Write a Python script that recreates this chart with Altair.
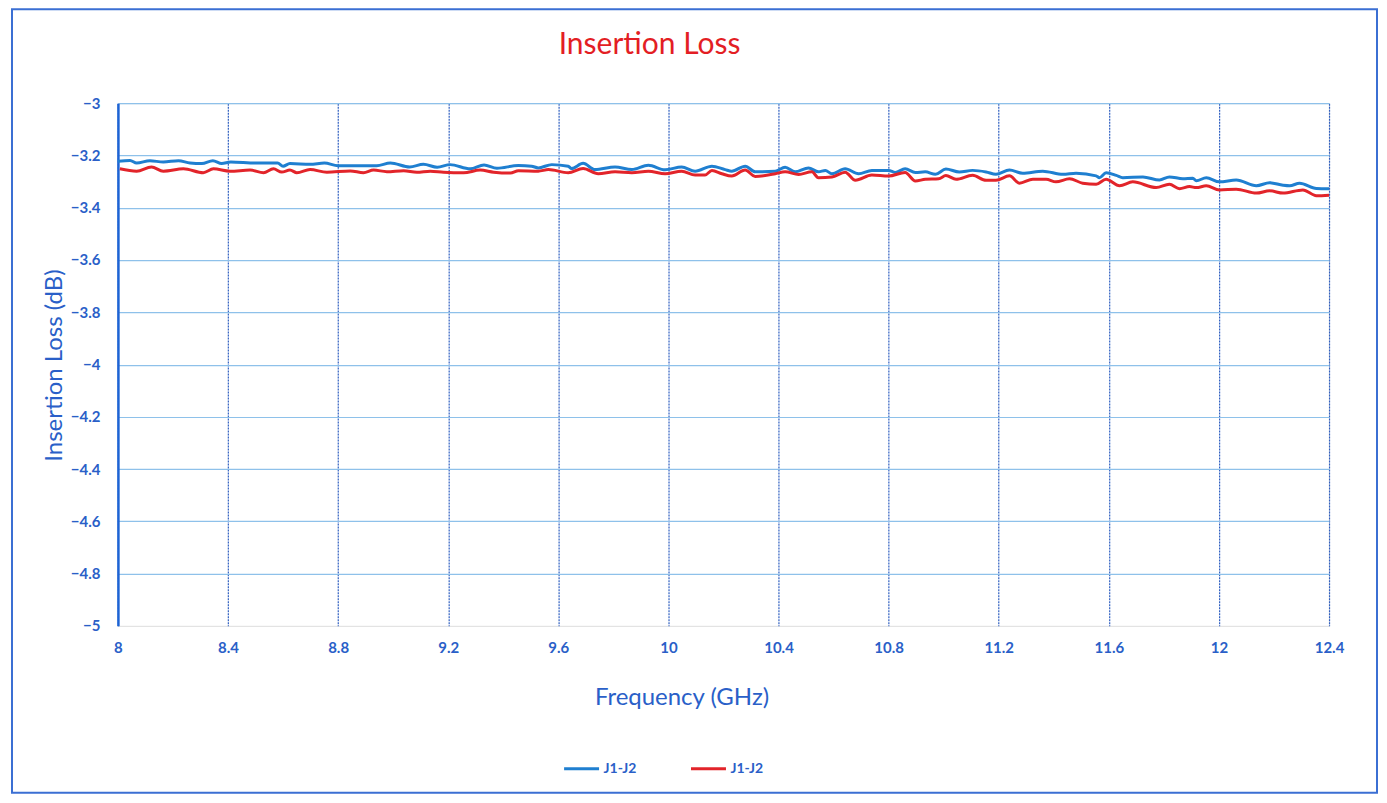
import altair as alt
import pandas as pd

# ---- data ----
freq_blue = [8.0, 8.044, 8.068, 8.116, 8.165, 8.22, 8.262, 8.305, 8.345, 8.377, 8.41, 8.5, 8.58, 8.6,
             8.625, 8.698, 8.75, 8.8, 8.94, 8.99, 9.06, 9.11, 9.16, 9.207, 9.28, 9.33, 9.377, 9.455,
             9.503, 9.527, 9.576, 9.636, 9.648, 9.69, 9.733, 9.806, 9.867, 9.927, 9.988, 10.048,
             10.097, 10.158, 10.206, 10.23, 10.279, 10.315, 10.388, 10.424, 10.46, 10.509, 10.545,
             10.57, 10.594, 10.642, 10.691, 10.739, 10.8, 10.824, 10.86, 10.897, 10.933, 10.97,
             11.008, 11.057, 11.105, 11.154, 11.19, 11.239, 11.287, 11.36, 11.433, 11.481, 11.554,
             11.566, 11.59, 11.627, 11.651, 11.724, 11.784, 11.82, 11.869, 11.905, 11.918, 11.954,
             12.002, 12.063, 12.136, 12.184, 12.233, 12.257, 12.293, 12.354, 12.4]
loss_blue = [-3.222, -3.219, -3.229, -3.220, -3.225, -3.220, -3.229, -3.231, -3.220, -3.231, -3.225,
             -3.229, -3.229, -3.241, -3.231, -3.234, -3.229, -3.239, -3.239, -3.229, -3.244, -3.234,
             -3.245, -3.235, -3.251, -3.236, -3.249, -3.238, -3.241, -3.2475, -3.235, -3.241, -3.25,
             -3.23, -3.254, -3.244, -3.254, -3.2375, -3.255, -3.244, -3.26, -3.241, -3.254, -3.26,
             -3.241, -3.2625, -3.26, -3.245, -3.2625, -3.2475, -3.2625, -3.2575, -3.27, -3.251, -3.27,
             -3.2575, -3.2575, -3.265, -3.251, -3.265, -3.2625, -3.272, -3.252, -3.263, -3.257, -3.263,
             -3.272, -3.256, -3.268, -3.26, -3.272, -3.268, -3.278, -3.285, -3.266, -3.276, -3.285,
             -3.282, -3.294, -3.282, -3.289, -3.287, -3.297, -3.285, -3.301, -3.294, -3.316, -3.304,
             -3.314, -3.316, -3.306, -3.326, -3.327]

freq_red = [8.007, 8.068, 8.122, 8.165, 8.238, 8.31, 8.347, 8.407, 8.48, 8.529, 8.565, 8.595, 8.625,
            8.65, 8.698, 8.759, 8.844, 8.892, 8.929, 8.977, 9.038, 9.086, 9.135, 9.183, 9.256, 9.316,
            9.365, 9.426, 9.455, 9.527, 9.564, 9.636, 9.69, 9.745, 9.806, 9.867, 9.927, 9.988, 10.048,
            10.097, 10.133, 10.158, 10.194, 10.23, 10.279, 10.315, 10.388, 10.424, 10.473, 10.521,
            10.545, 10.594, 10.642, 10.679, 10.739, 10.8, 10.86, 10.897, 10.933, 10.982, 11.008,
            11.045, 11.105, 11.154, 11.19, 11.239, 11.275, 11.324, 11.372, 11.408, 11.457, 11.505,
            11.554, 11.59, 11.639, 11.687, 11.772, 11.82, 11.857, 11.893, 11.918, 11.954, 12.002,
            12.063, 12.136, 12.184, 12.233, 12.305, 12.354, 12.4]
loss_red = [-3.251, -3.26, -3.244, -3.26, -3.251, -3.266, -3.251, -3.26, -3.256, -3.266, -3.251,
            -3.2635, -3.256, -3.266, -3.2537, -3.264, -3.259, -3.266, -3.256, -3.262, -3.258, -3.264,
            -3.26, -3.264, -3.266, -3.256, -3.264, -3.2675, -3.258, -3.26, -3.254, -3.266, -3.25,
            -3.27, -3.2625, -3.266, -3.26, -3.27, -3.26, -3.275, -3.275, -3.2575, -3.27, -3.279,
            -3.256, -3.28, -3.27, -3.2625, -3.2725, -3.2625, -3.285, -3.2825, -3.264, -3.295, -3.275,
            -3.279, -3.265, -3.2975, -3.291, -3.289, -3.277, -3.291, -3.276, -3.295, -3.295, -3.278,
            -3.306, -3.291, -3.291, -3.301, -3.289, -3.306, -3.31, -3.291, -3.316, -3.301, -3.323,
            -3.31, -3.327, -3.319, -3.323, -3.316, -3.332, -3.329, -3.344, -3.335, -3.344, -3.332,
            -3.354, -3.352]

series_keys = ["A", "B"]
series_label = "J1-J2"
series_colors = ["#1f7fd0", "#e2242a"]

x_ticks = [8, 8.4, 8.8, 9.2, 9.6, 10, 10.4, 10.8, 11.2, 11.6, 12, 12.4]
y_ticks = [-5, -4.8, -4.6, -4.4, -4.2, -4, -3.8, -3.6, -3.4, -3.2, -3]

df = pd.concat([
    pd.DataFrame({"freq": freq_blue, "loss": loss_blue, "series": series_keys[0]}),
    pd.DataFrame({"freq": freq_red, "loss": loss_red, "series": series_keys[1]}),
])

AX = "#2a5fc8"
FONT = "Lato"

lines = alt.Chart(df).mark_line(strokeWidth=3, interpolate="monotone").encode(
    x=alt.X("freq:Q", scale=alt.Scale(domain=[8, 12.4], nice=False, zero=False),
            axis=alt.Axis(values=x_ticks, title="Frequency (GHz)", format="~g",
                          domain=False, ticks=False, labelPadding=15,
                          labelFont=FONT, labelFontSize=15, labelFontWeight="bold", labelColor=AX,
                          labelFlush=False,
                          grid=True, gridColor="#2f5fc0", gridDash=[2, 1], gridWidth=1.2,
                          titleFont=FONT, titleFontSize=24, titleFontWeight="normal", titleColor=AX,
                          titleX=564, titleY=72, titleBaseline="middle")),
    y=alt.Y("loss:Q", scale=alt.Scale(domain=[-5, -3], nice=False, zero=False),
            axis=alt.Axis(values=y_ticks, title="Insertion Loss (dB)", format="~g",
                          domain=True, domainColor="#1d63d4", domainWidth=2.5,
                          ticks=False, labelPadding=18,
                          labelFont=FONT, labelFontSize=15, labelFontWeight="bold", labelColor=AX,
                          labelFlush=False,
                          grid=True, gridColor="#8ec1ea", gridWidth=1.2,
                          gridOpacity=alt.condition("datum.value == -5", alt.value(0), alt.value(1)),
                          titleFont=FONT, titleFontSize=24, titleFontWeight="normal", titleColor=AX,
                          titleX=-63, titleY=262, titleBaseline="middle")),
    color=alt.Color("series:N", scale=alt.Scale(domain=series_keys, range=series_colors),
                    legend=alt.Legend(title=None, orient="none", direction="horizontal",
                                      legendX=445, legendY=647,
                                      labelExpr="'" + series_label + "'",
                                      symbolType="stroke", symbolSize=1225, symbolStrokeWidth=3,
                                      labelFont=FONT, labelFontSize=14, labelFontWeight="bold",
                                      labelColor=AX, labelOffset=3, columnPadding=48)),
)

frame = alt.Chart(alt.Data(values=[{}])).mark_rect(
    fill=None, stroke="#3b6fd3", strokeWidth=2
).encode(x=alt.value(-106), x2=alt.value(1260), y=alt.value(-94), y2=alt.value(690))

chart = alt.layer(frame, lines).properties(
    width=1212, height=523,
    title=alt.TitleParams("Insertion Loss", color="#e31e24", font=FONT, fontSize=30,
                          fontWeight="normal", anchor="middle", dx=-74, offset=0, dy=52),
    autosize=alt.AutoSizeParams(type="none"),
    padding={"left": 110, "top": 95, "right": 50, "bottom": 170},
).configure_view(stroke=None).configure(background="white")

chart.save("out.html", embed_options={"renderer": "svg", "actions": False})
